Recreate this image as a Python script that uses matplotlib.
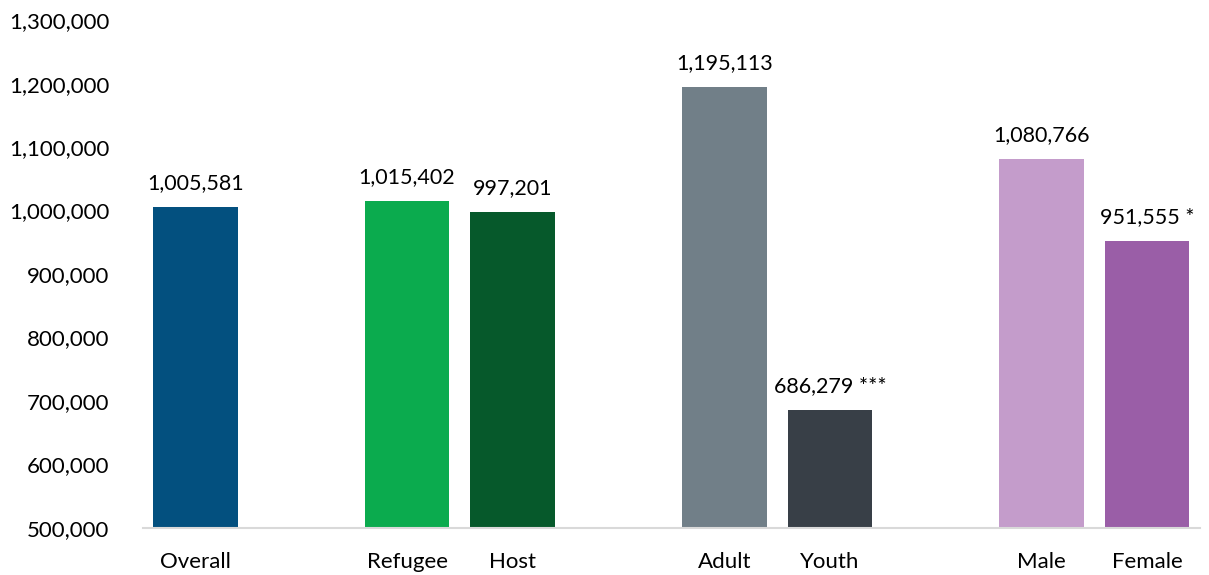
import matplotlib
matplotlib.use('Agg')
import matplotlib.pyplot as plt
from matplotlib.ticker import FuncFormatter

# data
categories = ['Overall', 'Refugee', 'Host', 'Adult', 'Youth', 'Male', 'Female']
slots = [0, 2, 3, 5, 6, 8, 9]
values = [1005581, 1015402, 997201, 1195113, 686279, 1080766, 951555]
stars = ['', '', '', '', '***', '', '*']
colors = ['#03507f', '#0bab4e', '#06592b', '#717f88', '#383f47', '#c49ccb', '#9a5ea7']

plt.rcParams['font.family'] = ['Lato', 'DejaVu Sans']

fig = plt.figure(figsize=(12.09, 5.75), dpi=100)
ax = fig.add_axes([0.118, 0.0817, 0.8746, 0.8833])

ax.bar(slots, values, width=0.8, color=colors, zorder=2)

# value labels above each bar
for x, v, s in zip(slots, values, stars):
    txt = '{:,}'.format(v) + (' ' + s if s else '')
    ax.annotate(txt, (x, v), xytext=(0, 10), textcoords='offset points',
                ha='center', va='bottom', fontsize=15.5, color='black')

ax.set_ylim(500000, 1300000)
ax.set_xlim(-0.5, 9.5)
ax.set_yticks(range(500000, 1300001, 100000))
ax.yaxis.set_major_formatter(FuncFormatter(lambda v, p: '{:,}'.format(int(v))))
ax.set_xticks(slots)
ax.set_xticklabels(categories)

ax.tick_params(axis='both', length=0, labelsize=16)
ax.tick_params(axis='y', pad=24)
ax.tick_params(axis='x', pad=17)

for side in ['top', 'right', 'left']:
    ax.spines[side].set_visible(False)
ax.spines['bottom'].set_color('#d9d9d9')
ax.spines['bottom'].set_linewidth(1.5)

plt.savefig('out.png', dpi=100)
